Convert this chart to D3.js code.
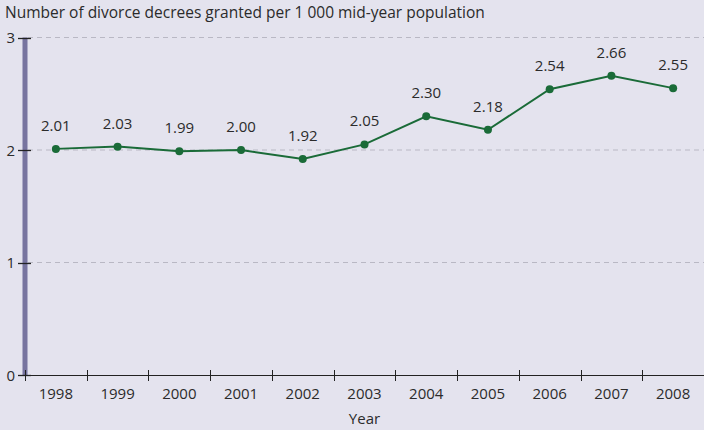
<!DOCTYPE html>
<html><head><meta charset="utf-8">
<script src="https://cdn.jsdelivr.net/npm/d3@7"></script>
<style>
html,body{margin:0;padding:0;background:#e4e3ee;}
svg{display:block;font-family:"Open Sans",sans-serif;}
</style></head>
<body>
<svg id="c" width="704" height="430"></svg>
<script>
const years = ["1998","1999","2000","2001","2002","2003","2004","2005","2006","2007","2008"];
const rates = [2.01,2.03,1.99,2.00,1.92,2.05,2.30,2.18,2.54,2.66,2.55];
const yTicks = [0,1,2,3];
const titleText = "Number of divorce decrees granted per 1 000 mid-year population";
const xTitle = "Year";

const svg = d3.select("#c");
const W = 704, H = 430;
const x0 = 25, x1 = 704, yTop = 37.5, yBot = 375;
const x = d3.scaleBand().domain(years).range([x0, x1]);
const y = d3.scaleLinear().domain([0,3]).range([yBot, yTop]);

svg.append("rect").attr("width",W).attr("height",H).attr("fill","#e4e3ee");

// title
svg.append("text").attr("x",5).attr("y",18).attr("font-size",15.5).attr("fill","#2b2b2b").text(titleText);

// gridlines
svg.append("g").selectAll("line").data(yTicks.filter(d=>d>0)).join("line")
  .attr("x1",x0+3).attr("x2",x1).attr("y1",d=>y(d)).attr("y2",d=>y(d))
  .attr("stroke","#b9b8c4").attr("stroke-width",1).attr("stroke-dasharray","5,4");

// y axis bar
svg.append("rect").attr("x",22.5).attr("y",yTop).attr("width",5).attr("height",yBot-yTop).attr("fill","#77749f");

// y ticks
const yg = svg.append("g");
yg.selectAll("line").data(yTicks).join("line")
  .attr("x1",18).attr("x2",31).attr("y1",d=>Math.round(y(d))+0.5).attr("y2",d=>Math.round(y(d))+0.5)
  .attr("stroke","#222").attr("stroke-width",1.3);
yg.selectAll("text").data(yTicks).join("text")
  .attr("x",15).attr("y",d=>y(d)+5.5).attr("text-anchor","end").attr("font-size",15).attr("fill","#2b2b2b").text(d=>d);

// x axis
const xg = svg.append("g");
xg.append("line").attr("x1",x0).attr("x2",x1).attr("y1",yBot+0.5).attr("y2",yBot+0.5).attr("stroke","#222").attr("stroke-width",1.2);
xg.selectAll("line.t").data(years).join("line").attr("class","t")
  .attr("x1",d=>Math.round(x(d))+0.5).attr("x2",d=>Math.round(x(d))+0.5).attr("y1",yBot-5).attr("y2",yBot+6)
  .attr("stroke","#222").attr("stroke-width",1);
xg.selectAll("text").data(years).join("text")
  .attr("x",d=>x(d)+x.bandwidth()/2).attr("y",yBot+24).attr("text-anchor","middle").attr("font-size",15).attr("fill","#2b2b2b").text(d=>d);
svg.append("text").attr("x",(x0+x1)/2).attr("y",424).attr("text-anchor","middle").attr("font-size",15).attr("fill","#2b2b2b").text(xTitle);

// line
const cx = d=>x(d)+x.bandwidth()/2;
const line = d3.line().x((d,i)=>cx(years[i])).y(d=>y(d));
svg.append("path").datum(rates).attr("d",line).attr("fill","none").attr("stroke","#1a6b38").attr("stroke-width",2);
svg.selectAll("circle.p").data(rates).join("circle").attr("class","p")
  .attr("cx",(d,i)=>cx(years[i])).attr("cy",d=>y(d)).attr("r",4).attr("fill","#1a6b38");
svg.selectAll("text.l").data(rates).join("text").attr("class","l")
  .attr("x",(d,i)=>cx(years[i])).attr("y",d=>y(d)-18).attr("text-anchor","middle").attr("font-size",15).attr("fill","#2b2b2b")
  .text(d=>d.toFixed(2));
</script>
</body></html>
